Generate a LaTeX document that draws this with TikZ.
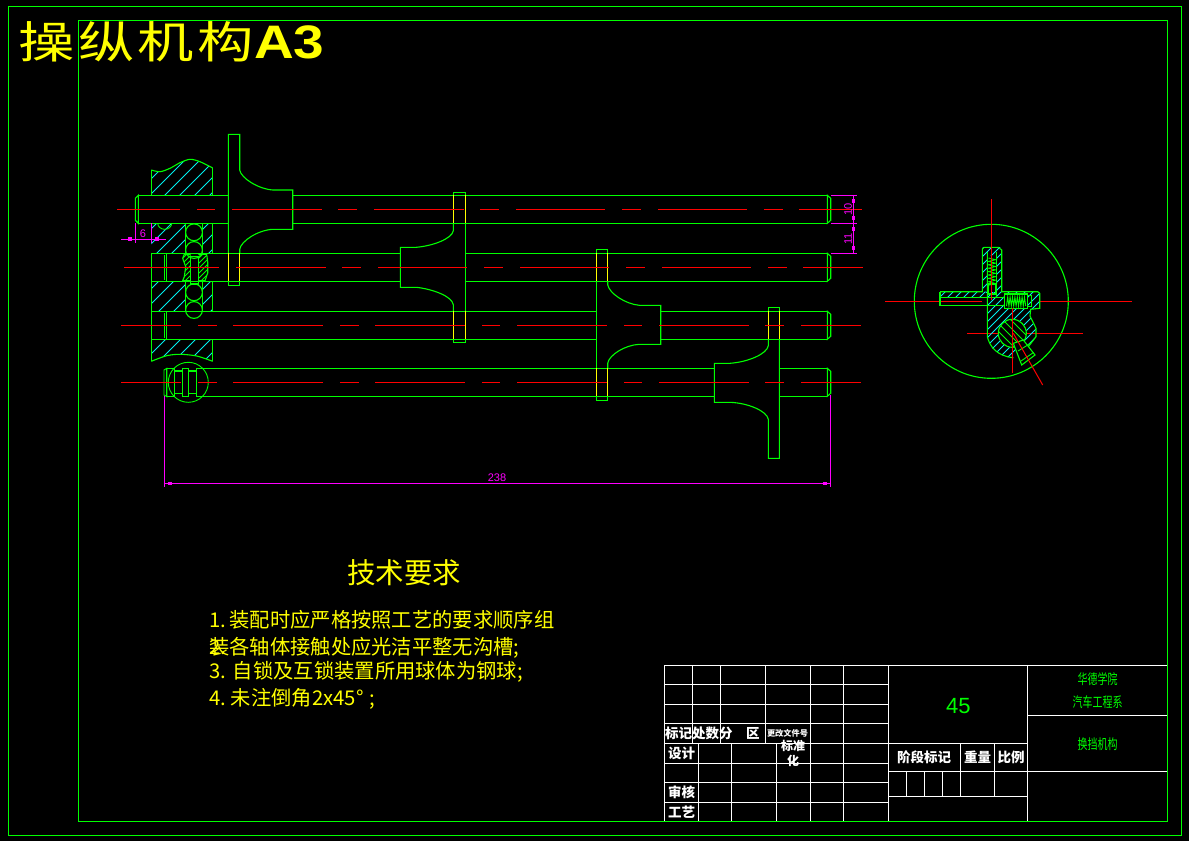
\documentclass[tikz,border=0pt]{standalone}
\usepackage{fontspec}
\setmainfont{Liberation Sans}
\newfontfamily\cjk{Noto Sans CJK SC}
\newfontfamily\cjktitle[FakeStretch=1.28,LetterSpace=8]{Noto Sans CJK SC}
\newfontfamily\latinwide[FakeStretch=1.17]{Liberation Sans}
\usetikzlibrary{arrows}
\definecolor{cadgreen}{RGB}{0,255,0}
\definecolor{cadcyan}{RGB}{0,240,240}
\definecolor{cadyellow}{RGB}{255,255,0}
\definecolor{cadmagenta}{RGB}{255,0,255}
\definecolor{cadred}{RGB}{255,0,0}
\tikzset{
  part/.style={draw=cadgreen, line width=1.1pt},
  thinpart/.style={draw=cadgreen, line width=0.9pt},
  hidden/.style={draw=cadyellow, line width=1.1pt},
  axis/.style={draw=cadred, line width=1pt},
  axisbold/.style={draw=cadred, line width=1.4pt},
  dimline/.style={draw=cadmagenta, line width=1pt},
  dimtick/.style={fill=cadmagenta},
  hatchline/.style={draw=cadcyan, line width=0.9pt},
  hatchgreen/.style={draw=cadgreen, line width=0.9pt},
  tblline/.style={draw=white, line width=1.1pt},
  dimtext/.style={text=cadmagenta, font=\fontsize{11}{11}\selectfont, inner sep=0pt},
  note/.style={text=cadyellow, anchor=west, inner sep=0pt, font=\cjk\fontsize{20.3}{20}\selectfont},
  tbltext/.style={text=white, inner sep=0pt, font=\cjk\bfseries\fontsize{13.5}{14}\selectfont},
  tblgreen/.style={text=cadgreen, inner sep=0pt, yscale=1.4, font=\cjk\fontsize{10}{10}\selectfont},
}
% region path, start positions, line style, direction
\newcommand{\hatchpath}[4]{%
  \begin{scope}
    \clip #1;
    \foreach \hx/\hy in {#2} \draw[#3] (\hx,\hy) -- ++(#4);
  \end{scope}}
\newcommand{\numcell}[1]{\makebox[1em][l]{#1}}
\begin{document}
\begin{tikzpicture}[x=1pt,y=-1pt]
\useasboundingbox (0,0) rectangle (1189,841);
\fill[black] (0,0) rectangle (1189,841);
%frames
\draw[part] (8.3,6.3) rectangle (1181.7,835.3);
\draw[part] (78.3,20.3) rectangle (1167.3,821.3);
%title
\node[anchor=west, text=cadyellow, inner sep=0pt] (drawingtitle) at (18,42)
  {{\cjktitle\fontsize{44}{44}\selectfont 操纵机构}{\latinwide\bfseries\fontsize{47}{47}\selectfont A3}};

%housing hatching, top to bottom
\hatchpath{plot[smooth] coordinates {(151.3,170) (160,171.7) (170,168.3) (180,162.7) (190,159.3) (200,161.7) (212.7,168)} -- (212.7,195.3) -- (151.3,195.3) -- cycle}
  {180/150,195/150,210/150,225/150,240/150,255/150}{hatchline}{-60,60}
\hatchpath{(151.3,223.3) rectangle (185.3,253.3)}
  {160/220,175/220,190/220,205/220}{hatchline}{-60,60}
\hatchpath{(202.7,223.3) rectangle (212.7,253.3)}
  {212/220,227/220,242/220}{hatchline}{-60,60}
\hatchpath{(151.3,281.3) rectangle (185.3,311.3)}
  {160/280,175/280,190/280,205/280}{hatchline}{-60,60}
\hatchpath{(202.7,281.3) rectangle (212.7,311.3)}
  {212/280,227/280,242/280}{hatchline}{-60,60}
\hatchpath{plot[smooth] coordinates {(212.7,361.3) (196.7,356) (180,354.3) (166.7,355.7) (151.3,361.3)} -- (151.3,339.3) -- (212.7,339.3) -- cycle}
  {166/339,181/339,196/339,211/339,226/339,241/339}{hatchline}{-60,60}
%housing outline
\draw[part] plot[smooth] coordinates {(151.3,170) (160,171.7) (170,168.3) (180,162.7) (190,159.3) (200,161.7) (212.7,168)};
\draw[part] (151.3,195.3) -- (151.3,170);
\draw[part] (212.7,168) -- (212.7,195.3);
\draw[part] (212.7,223.3) -- (212.7,253.3) (212.7,281.3) -- (212.7,311.3);
\draw[part] (212.7,339.3) -- (212.7,361.3);
\draw[part] plot[smooth] coordinates {(212.7,361.3) (196.7,356) (180,354.3) (166.7,355.7) (151.3,361.3)};
\draw[part] (151.3,253.3) -- (151.3,361.3);
\draw[part] (151.3,195.3) -- (212.7,195.3);
\draw[thinpart] (157.7,223.3) arc (180:0:7 and 6);
\draw[part] (185.3,223.3) -- (185.3,254) (202.7,223.3) -- (202.7,254);
\draw[part] (185.3,281.3) -- (185.3,312) (202.7,281.3) -- (202.7,312);

%detent balls
\foreach \yball in {232.3,250,292.3,310}
  \draw[part] (194,\yball) circle (8.4);

%shaft lines
\draw[part] (138.3,195.3) -- (228.3,195.3) (292.7,195.3) -- (827.3,195.3);
\draw[part] (138.3,223.3) -- (228.3,223.3) (292.7,223.3) -- (827.3,223.3);
\draw[part] (151.3,253.3) -- (400.3,253.3) (465.7,253.3) -- (827.3,253.3);
\draw[part] (151.3,281.3) -- (400.3,281.3) (465.7,281.3) -- (827.3,281.3);
\draw[part] (151.3,311.3) -- (596.3,311.3) (660.7,311.3) -- (827.3,311.3);
\draw[part] (151.3,339.3) -- (596.3,339.3) (660.7,339.3) -- (827.3,339.3);
\draw[part] (196.3,368.3) -- (714.3,368.3) (779.3,368.3) -- (827.3,368.3);
\draw[part] (196.3,396.7) -- (714.3,396.7) (779.3,396.7) -- (827.3,396.7);
%shaft ends
\foreach \ytop in {195.3,253.3,311.3,368.3}
  \draw[part] (827.3,\ytop) -- ++(3.4,3) -- ++(0,22) -- ++(-3.4,3) -- cycle;
\draw[part] (138.3,195.3) -- (135.3,198.3) -- (135.3,220.3) -- (138.3,223.3) -- cycle;
\draw[thinpart] (164,255) -- (164,279.5) (166.8,253.3) -- (166.8,281.3);
\draw[thinpart] (164,313) -- (164,337.5) (166.8,311.3) -- (166.8,339.3);
%shaft 4 left end
\draw[thinpart] (164,370) -- (164,395) -- (166.8,396.7) -- (166.8,368.3) -- cycle;
\draw[part] (166.8,368.3) rectangle (174.3,396.7);
\draw[part] (174.3,371) rectangle (182.3,393.3);
\draw[part] (182.3,368.3) rectangle (188.3,396.7);
\draw[part] (188.3,371) rectangle (196.3,393.3);
\draw[part] (196.3,368.3) -- (196.3,396.7);
\draw[thinpart] (188.3,382.3) circle (20);

%forks
\draw[part] (228.3,253.3) -- (228.3,134.3) -- (239.7,134.3) -- (239.7,170)
  .. controls (241,178) and (258,189) .. (273,190) -- (292.7,190) -- (292.7,229.3) -- (273,229.3)
  .. controls (258,230) and (241,241) .. (239.7,249.3) -- (239.7,253.3);
\draw[part] (228.3,281.3) -- (228.3,285.7) -- (239.7,285.7) -- (239.7,281.3);
\draw[part] (465.7,223.3) -- (465.7,311.3);
\draw[part] (453.3,223.3) -- (453.3,230.7)
  .. controls (452,239) and (432,246) .. (416.3,247.3) -- (400.3,247.3) -- (400.3,287.3) -- (416.3,287.3)
  .. controls (432,289) and (452,296) .. (453.3,304.7) -- (453.3,311.3);
\draw[part] (453.3,195.3) -- (453.3,192.3) -- (465.7,192.3) -- (465.7,195.3);
\draw[part] (453.3,339.3) -- (453.3,342.7) -- (465.7,342.7) -- (465.7,339.3);
\draw[part] (596.3,253.3) -- (596.3,249.3) -- (607.7,249.3) -- (607.7,253.3);
\draw[part] (596.3,281.3) -- (596.3,368.3);
\draw[part] (607.7,281.3) -- (607.7,284.7)
  .. controls (609,293) and (625,304) .. (639.3,305.3) -- (660.7,305.3) -- (660.7,344.3) -- (639.3,344.3)
  .. controls (625,345) and (609,355) .. (607.7,363.3) -- (607.7,368.3);
\draw[part] (596.3,396.3) -- (596.3,400.7) -- (607.7,400.7) -- (607.7,396.3);
\draw[part] (768.3,311.3) -- (768.3,307.3) -- (779.3,307.3) -- (779.3,311.3);
\draw[part] (779.3,339.3) -- (779.3,458.3) -- (768.3,458.3) -- (768.3,419.3)
  .. controls (767,411) and (748,403) .. (730,402.3) -- (714.3,402.3) -- (714.3,363.3) -- (730,363.3)
  .. controls (748,362) and (767,354) .. (768.3,345.7) -- (768.3,339.3);
%flange parts over a shaft
\draw[hidden] (228.3,253.3) -- (228.3,281.3) (239.7,253.3) -- (239.7,281.3);
\draw[hidden] (453.3,195.3) -- (453.3,223.3) (465.7,195.3) -- (465.7,223.3);
\draw[hidden] (453.3,311.3) -- (453.3,339.3) (465.7,311.3) -- (465.7,339.3);
\draw[hidden] (596.3,253.3) -- (596.3,281.3) (607.7,253.3) -- (607.7,281.3);
\draw[hidden] (596.3,368.3) -- (596.3,396.3) (607.7,368.3) -- (607.7,396.3);
\draw[hidden] (768.3,311.3) -- (768.3,339.3) (779.3,311.3) -- (779.3,339.3);

%locating pin between shafts
\hatchpath{(190.7,254.3) -- (184.3,254.3) -- (182.7,258.3) -- (185.7,266.7) -- (184.3,276.7) -- (182.7,280.7) -- (190.7,280.7) -- cycle}
  {186/250,191/250,196/250,201/250,206/250,211/250,216/250,221/250}{hatchgreen}{-40,40}
\hatchpath{(198.3,254.3) -- (206.7,254.3) -- (207.7,261.7) -- (207.7,273) -- (205,280.7) -- (198.3,280.7) -- cycle}
  {202/250,207/250,212/250,217/250,222/250,227/250,232/250,237/250}{hatchgreen}{-40,40}
\draw[part] (190.7,254.3) -- (184.3,254.3) -- (182.7,258.3) -- (185.7,266.7) -- (184.3,276.7) -- (182.7,280.7) -- (190.7,280.7);
\draw[part] (198.3,254.3) -- (206.7,254.3) -- (207.7,261.7) -- (207.7,273) -- (205,280.7) -- (198.3,280.7);
\draw[part] (190.7,256.7) rectangle (198.3,284);

%center lines
\foreach \xa/\xb in {117/180,197/215,232/322,338/357,374/464,480/499,516/605,622/641,658/747,764/783,799/862}
  \draw[axis] (\xa,209.3) -- (\xb,209.3);
\foreach \xa/\xb in {124/219,236/326,342/361,378/467,484/503,520/609,626/645,662/751,768/787,803/863}
  \draw[axis] (\xa,267.3) -- (\xb,267.3);
\foreach \xa/\xb in {121/181,198/217,233/323,340/359,375/465,482/500,517/607,624/642,659/749,765/784,801/861}
  \draw[axis] (\xa,325.3) -- (\xb,325.3);
\foreach \xa/\xb in {121/181,198/217,233/323,340/359,375/465,482/500,517/607,624/642,659/749,765/784,801/861}
  \draw[axisbold] (\xa,382.3) -- (\xb,382.3);

%dimensions
\draw[dimline] (135.3,223.3) -- (135.3,243) (151.3,223.3) -- (151.3,243);
\draw[dimline] (121,239.3) -- (166,239.3);
\fill[dimtick] (128,237.3) rectangle (132,241.3);
\fill[dimtick] (155,237.3) rectangle (159,241.3);
\node[dimtext] (dimsix) at (143,234) {6};
\draw[dimline] (831,195.3) -- (856.7,195.3) (831,223.3) -- (856.7,223.3) (831,253.3) -- (856.7,253.3);
\draw[dimline] (853.3,195.3) -- (853.3,253.3);
\foreach \ytick in {200.7,217.7,228.7,248}
  \fill[dimtick] (851.8,\ytick-2) rectangle (854.8,\ytick+2);
\node[dimtext, rotate=90] (dimten) at (848,209) {10};
\node[dimtext, rotate=90] (dimeleven) at (848,239) {11};
\draw[dimline] (164.3,396) -- (164.3,487) (830.7,395) -- (830.7,487);
\draw[dimline] (164.3,483.7) -- (830.7,483.7);
\fill[dimtick] (168,482) rectangle (172,485.4);
\fill[dimtick] (823,482) rectangle (827,485.4);
\node[dimtext] (dimlength) at (497,478) {238};

%side view
\draw[part] (991.3,301.3) circle (77);
\draw[axis] (885,301.3) -- (982,301.3) (1040,301.3) -- (1131.7,301.3);
\draw[axis] (967,333.3) -- (1082.7,333.3);
\hatchpath{(940,291.7) -- (987.3,291.7) -- (1037.7,291.7) -- (1039.7,293.3) -- (1039.7,308.3) -- (1030.7,309.3) -- (1030,316) -- (1036,328.3) -- (1036,336.7) -- (1028.3,346.7) -- (1013.3,357.7) -- (1005,356.7) -- (993.3,350) -- (987.3,336.7) -- (987.3,297.3) -- (940,297.3) -- cycle}
  {952/285,960/285,968/285,976/285,984/285,992/285,1000/285,1008/285,1016/285,1024/285,1032/285,1040/285,1048/285,1056/285,1064/285,1072/285,1080/285,1088/285,1096/285,1104/285,1112/285}{hatchline}{-100,100}
\hatchpath{(982.3,247.3) rectangle (1001.7,292)}
  {986/245,994/245,1002/245,1010/245,1018/245,1026/245,1034/245,1042/245,1050/245}{hatchline}{-60,60}
\fill[black] (987.3,256) rectangle (996.7,291.7);
\fill[black] (1012.3,333.3) circle (14);
\hatchpath{(1012.3,333.3) circle (14)}
  {969/310,977/310,985/310,993/310,1001/310,1009/310}{hatchgreen}{50,50}
\draw[part] (1012.3,333.3) circle (14);
\draw[part] (940,291.7) -- (982.3,291.7) -- (982.3,249) -- (984,247.3) -- (998.3,247.3) -- (1001.7,250) -- (1001.7,291.7) -- (1037.7,291.7) -- (1039.7,293.3) -- (1039.7,308.3) -- (1030.7,309.3) -- (1030,316) -- (1036,328.3) -- (1036,336.7) -- (1028.3,346.7);
\draw[part] (940,291.7) -- (940,305.3) -- (987.3,305.3);
\draw[part] (941,297.3) -- (987.3,297.3) (987.3,297.3) -- (1004.7,297.3) (987.3,305.3) -- (1004.7,305.3);
\draw[part] (987.3,252) -- (987.3,336.7) .. controls (990,347) and (997,356) .. (1013.3,357.7);
\draw[part] (996.7,252) -- (996.7,297.3);
%springs
\draw[thinpart] (988.5,258) \foreach \k in {0,...,7} {-- ++(7,1.7) -- ++(-7,1.7)};
\draw[part] (988.3,284) rectangle (995.3,294);
\fill[black] (1004.7,294) rectangle (1027.7,308.3);
\draw[part] (1004.7,294) rectangle (1027.7,308.3);
\draw[part] (1027.7,295.3) -- (1031.7,295.3) -- (1031.7,306.7) -- (1027.7,306.7);
\draw[thinpart] (1006.5,306) \foreach \k in {0,...,7} {-- ++(1.2,-9) -- ++(1.2,9)};
%small pin
\fill[black] (1013.3,343.3) -- (1023.3,340) -- (1035,355) -- (1021.7,365) -- cycle;
\draw[part] (1013.3,343.3) -- (1023.3,340) -- (1035,355) -- (1021.7,365) -- cycle;
\draw[thinpart] (1018,351) -- (1031,343) (1021,361) -- (1033.5,352.5);
\draw[axis] (991.3,199) -- (991.3,300);
\draw[axis] (1012.3,308.3) -- (1012.3,372.7);
\draw[axis] (1013.3,333.3) -- (1042.7,385);

%requirements
\node[text=cadyellow, inner sep=0pt, font=\cjk\fontsize{28.5}{28.5}\selectfont] (reqhead) at (404,572.7) {技术要求};
\node[note] (reqone) at (209,620) {\numcell{1.}装配时应严格按照工艺的要求顺序组};
\node[note] (reqtwo) at (209,648.3) {\rlap{2.}装各轴体接触处应光洁平整无沟槽;};
\node[note] (reqthree) at (209,672.3) {\numcell{3.}\hspace{3.5pt}自锁及互锁装置所用球体为钢球;};
\node[note] (reqfour) at (209,699) {\numcell{4.}\hspace{1.5pt}未注倒角2x45°\hspace{6pt};};

%title block grid
\draw[tblline] (664.3,665.3) -- (1167.3,665.3);
\foreach \yrow in {684.3,704.3,723.7,743.3}
  \draw[tblline] (664.3,\yrow) -- (888.3,\yrow);
\foreach \yrow in {763.3,782.3,802.3}
  \draw[tblline] (664.3,\yrow) -- (888.3,\yrow);
\draw[tblline] (664.3,665.3) -- (664.3,821.3);
\foreach \xcol in {692.3,720.3,765.3}
  \draw[tblline] (\xcol,665.3) -- (\xcol,743.3);
\foreach \xcol in {810.3,843.3,888.3}
  \draw[tblline] (\xcol,665.3) -- (\xcol,821.3);
\foreach \xcol in {698.3,731.3,776.3}
  \draw[tblline] (\xcol,743.3) -- (\xcol,821.3);
\draw[tblline] (1027.3,665.3) -- (1027.3,821.3);
\draw[tblline] (888.3,743.3) -- (1027.3,743.3) (888.3,771.3) -- (1167.3,771.3) (888.3,796.3) -- (1027.3,796.3);
\draw[tblline] (1027.3,715.3) -- (1167.3,715.3);
\foreach \xcol in {960.3,994.3}
  \draw[tblline] (\xcol,743.3) -- (\xcol,796.3);
\foreach \xcol in {906.3,924.3,942.3}
  \draw[tblline] (\xcol,771.3) -- (\xcol,796.3);
%title block texts
\node[tbltext, anchor=west] (markrow) at (665,733.5) {标记处数分　区};
\node[tbltext, font=\cjk\bfseries\fontsize{8.2}{9}\selectfont] (changedoc) at (787.5,733.3) {更改文件号};
\node[tbltext, font=\cjk\bfseries\fontsize{12}{12}\selectfont] (stdone) at (793,745.6) {标准};
\node[tbltext, font=\cjk\bfseries\fontsize{12}{12}\selectfont] (stdtwo) at (793,761) {化};
\node[tbltext] (design) at (681.6,753) {设计};
\node[tbltext] (review) at (681.6,792) {审核};
\node[tbltext] (process) at (681.6,812) {工艺};
\node[tbltext] (stagemark) at (924,757) {阶段标记};
\node[tbltext] (weight) at (977.7,757) {重量};
\node[tbltext] (ratio) at (1011,757) {比例};
\node[text=cadgreen, inner sep=0pt, font=\fontsize{22}{22}\selectfont] (sheetno) at (958.3,705.7) {45};
\node[tblgreen] (school) at (1097.7,679.3) {华德学院};
\node[tblgreen] (dept) at (1097.7,702.3) {汽车工程系};
\node[tblgreen] (partname) at (1097.7,744) {换挡机构};
\end{tikzpicture}
\end{document}
